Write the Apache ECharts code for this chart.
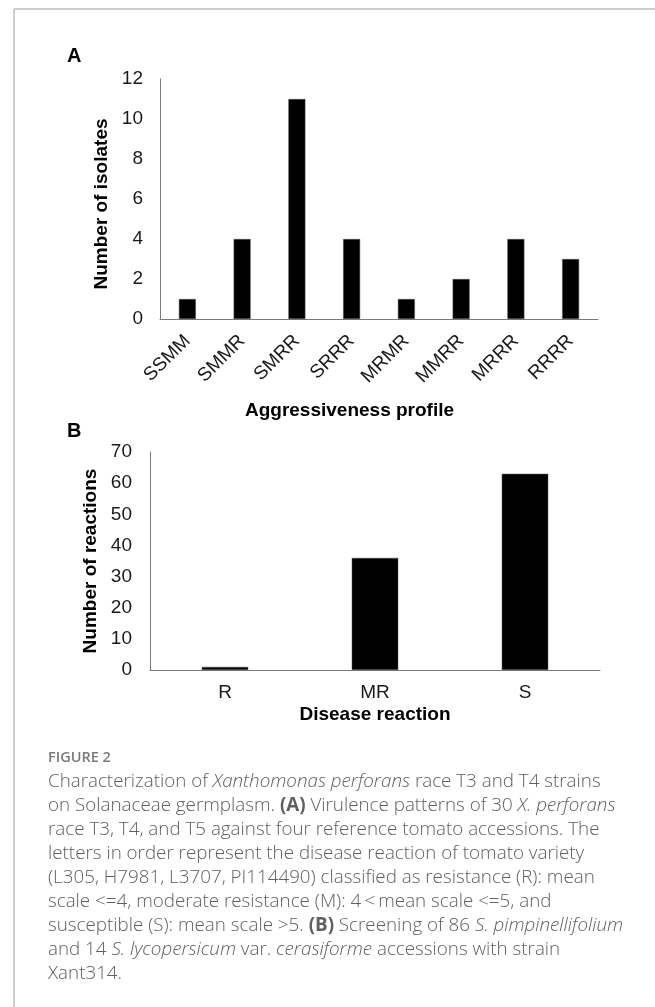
<!DOCTYPE html>
<html>
<head>
<meta charset="utf-8">
<script src="https://cdn.jsdelivr.net/npm/echarts@6/dist/echarts.min.js"></script>
<style>
html,body{margin:0;padding:0;background:#fff;}
#c{width:655px;height:1007px;}
</style>
</head>
<body>
<div id="c"></div>
<script>
// Panel A data
const profileCats = ['SSMM', 'SMMR', 'SMRR', 'SRRR', 'MRMR', 'MMRR', 'MRRR', 'RRRR'];
const isolateCounts = [1, 4, 11, 4, 1, 2, 4, 3];
const axisA = { min: 0, max: 12, interval: 2 };
// Panel B data
const reactionCats = ['R', 'MR', 'S'];
const reactionCounts = [1, 36, 63];
const axisB = { min: 0, max: 70, interval: 10 };

const captionLines = [
  'Characterization of {i|Xanthomonas perforans} race T3 and T4 strains',
  'on Solanaceae germplasm. {b|(A)} Virulence patterns of 30 {i|X. perforans}',
  'race T3, T4, and T5 against four reference tomato accessions. The',
  'letters in order represent the disease reaction of tomato variety',
  '(L305, H7981, L3707, PI114490) classified as resistance (R): mean',
  'scale <=4, moderate resistance (M): 4\u2009<\u2009mean scale <=5, and',
  'susceptible (S): mean scale >5. {b|(B)} Screening of 86 {i|S. pimpinellifolium}',
  'and 14 {i|S. lycopersicum} var. {i|cerasiforme} accessions with strain',
  'Xant314.'
];

const FONT = 'Liberation Sans, Arial, Helvetica, sans-serif';
const CAPFONT = '"Open Sans", "Noto Sans", sans-serif';
const axisLineColor = '#7a7a7a';
const textColor = '#1a1a1a';
const capSize = 18.8;

const chart = echarts.init(document.getElementById('c'), null, { renderer: 'canvas' });

const capStyle = { fontFamily: CAPFONT, fontSize: capSize, fontWeight: 300, color: '#606060', lineHeight: 24 };

const option = {
  backgroundColor: '#fff',
  animation: false,
  grid: [
    { left: 160, top: 79, width: 438, height: 240 },
    { left: 150, top: 452, width: 450, height: 218 }
  ],
  xAxis: [
    {
      gridIndex: 0, type: 'category', data: profileCats,
      axisLine: { lineStyle: { color: axisLineColor, width: 1 } },
      axisTick: { show: false },
      axisLabel: { rotate: 45, margin: 19, fontFamily: FONT, fontSize: 19, color: textColor, interval: 0 },
      name: 'Aggressiveness profile', nameLocation: 'middle', nameGap: 82,
      nameTextStyle: { fontFamily: FONT, fontSize: 19, fontWeight: 'bold', color: '#000', padding: [0, 59, 0, 0] }
    },
    {
      gridIndex: 1, type: 'category', data: reactionCats,
      axisLine: { lineStyle: { color: axisLineColor, width: 1 } },
      axisTick: { show: false },
      axisLabel: { margin: 13, fontFamily: FONT, fontSize: 19, color: textColor },
      name: 'Disease reaction', nameLocation: 'middle', nameGap: 35,
      nameTextStyle: { fontFamily: FONT, fontSize: 19, fontWeight: 'bold', color: '#000' }
    }
  ],
  yAxis: [
    {
      gridIndex: 0, type: 'value', min: axisA.min, max: axisA.max, interval: axisA.interval,
      axisLine: { show: true, lineStyle: { color: axisLineColor, width: 1 } },
      axisTick: { show: false },
      splitLine: { show: false },
      axisLabel: { margin: 17, fontFamily: FONT, fontSize: 19, color: textColor },
      name: 'Number of isolates', nameLocation: 'middle', nameGap: 43,
      nameTextStyle: { fontFamily: FONT, fontSize: 19, fontWeight: 'bold', color: '#000', padding: [0, 10, 0, 0] }
    },
    {
      gridIndex: 1, type: 'value', min: axisB.min, max: axisB.max, interval: axisB.interval,
      axisLine: { show: true, lineStyle: { color: axisLineColor, width: 1 } },
      axisTick: { show: false },
      splitLine: { show: false },
      axisLabel: { margin: 18, fontFamily: FONT, fontSize: 19, color: textColor },
      name: 'Number of reactions', nameLocation: 'middle', nameGap: 43,
      nameTextStyle: { fontFamily: FONT, fontSize: 19, fontWeight: 'bold', color: '#000' }
    }
  ],
  series: [
    {
      type: 'bar', xAxisIndex: 0, yAxisIndex: 0, data: isolateCounts, barWidth: '31%',
      itemStyle: { color: '#000', borderColor: '#555', borderWidth: 0.5 }
    },
    {
      type: 'bar', xAxisIndex: 1, yAxisIndex: 1, data: reactionCounts, barWidth: '31%',
      itemStyle: { color: '#000', borderColor: '#555', borderWidth: 0.5 }
    }
  ],
  graphic: [
    { type: 'line', shape: { x1: 14, y1: 9, x2: 655, y2: 9 }, style: { stroke: '#bdbdbd', lineWidth: 1.5 } },
    { type: 'line', shape: { x1: 14, y1: 9, x2: 14, y2: 1007 }, style: { stroke: '#bdbdbd', lineWidth: 1.5 } },
    { type: 'text', left: 67, top: 46, style: { text: 'A', fontFamily: FONT, fontSize: 20, fontWeight: 'bold', fill: '#000' } },
    { type: 'text', left: 67, top: 421, style: { text: 'B', fontFamily: FONT, fontSize: 20, fontWeight: 'bold', fill: '#000' } },
    { type: 'text', left: 48, top: 750, style: { text: 'FIGURE 2', fontFamily: CAPFONT, fontSize: 14.5, fontWeight: 600, fill: '#7a7a7a' } },
    {
      type: 'text', left: 48, top: 770,
      style: {
        text: captionLines.join('\n'),
        fontFamily: CAPFONT, fontSize: capSize, fontWeight: 300, fill: '#606060', lineHeight: 24,
        rich: {
          i: Object.assign({}, capStyle, { fontStyle: 'italic' }),
          b: Object.assign({}, capStyle, { fontWeight: 'bold' })
        }
      }
    }
  ]
};
chart.setOption(option);
</script>
</body>
</html>
